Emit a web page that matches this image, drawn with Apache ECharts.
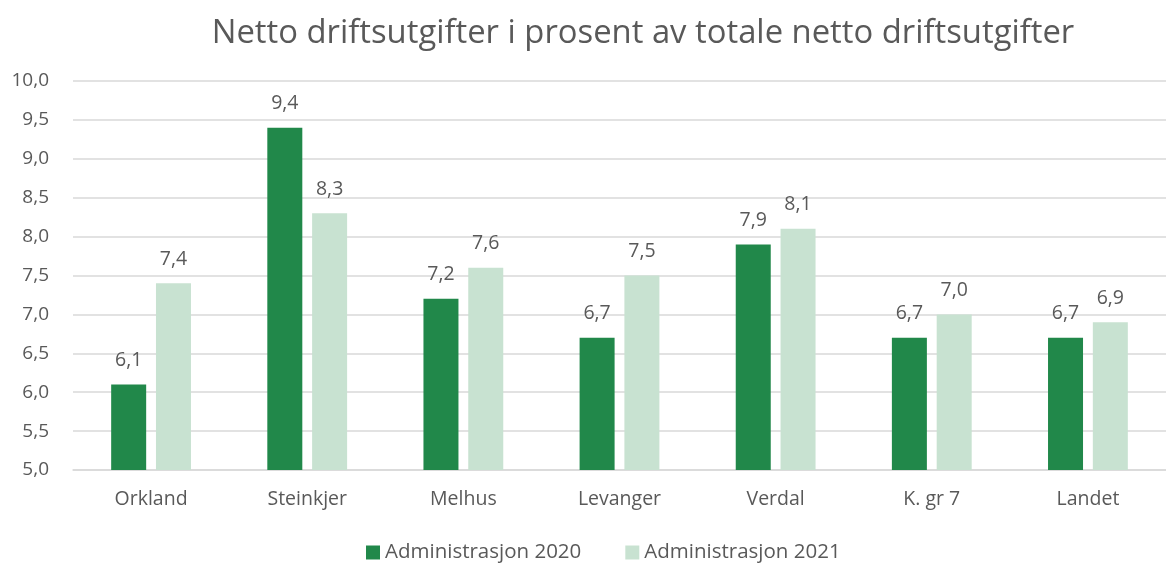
<!DOCTYPE html>
<html>
<head>
<meta charset="utf-8">
<script src="https://cdn.jsdelivr.net/npm/echarts@6/dist/echarts.min.js"></script>
<style>
  html, body { margin: 0; padding: 0; background: #fff; }
  #chart { width: 1166px; height: 563px; }
</style>
</head>
<body>
<div id="chart"></div>
<script>
var categories = ['Orkland', 'Steinkjer', 'Melhus', 'Levanger', 'Verdal', 'K. gr 7', 'Landet'];
var adm2020 = [6.1, 9.4, 7.2, 6.7, 7.9, 6.7, 6.7];
var adm2021 = [7.4, 8.3, 7.6, 7.5, 8.1, 7.0, 6.9];

var fontFam = '"Open Sans", "Noto Sans", sans-serif';
var txt = '#595959';

function fmt(v) {
    return v.toFixed(1).replace('.', ',');
}

var myChart = echarts.init(document.getElementById('chart'));

var option = {
    animation: false,
    textStyle: { fontFamily: fontFam },
    title: {
        text: 'Netto driftsutgifter i prosent av totale netto driftsutgifter',
        left: 638,
        textAlign: 'center',
        top: 12,
        textStyle: { color: txt, fontSize: 32.8, fontWeight: 'normal', fontFamily: fontFam }
    },
    legend: {
        bottom: -5,
        left: 361,
        itemWidth: 14,
        itemHeight: 14,
        itemGap: 44,
        icon: 'rect',
        textStyle: { color: txt, fontSize: 20.5, fontFamily: fontFam },
        data: ['Administrasjon 2020', 'Administrasjon 2021']
    },
    grid: { left: 73, right: -9, top: 81, bottom: 93 },
    xAxis: {
        type: 'category',
        data: categories,
        axisLine: { lineStyle: { color: '#d9d9d9', width: 1.5 } },
        axisTick: { show: false },
        axisLabel: { color: txt, fontSize: 19.5, margin: 19, fontFamily: fontFam }
    },
    yAxis: {
        type: 'value',
        min: 5,
        max: 10,
        interval: 0.5,
        axisLine: { show: false },
        axisTick: { show: false },
        splitLine: { lineStyle: { color: '#d9d9d9', width: 1.5 } },
        axisLabel: { color: txt, fontSize: 19, margin: 24, fontFamily: fontFam, formatter: fmt }
    },
    series: [{
        name: 'Administrasjon 2020',
        type: 'bar',
        data: adm2020,
        barWidth: 35,
        barGap: '28%',
        itemStyle: { color: '#21884a' },
        label: { show: true, position: 'top', distance: 14, color: txt, fontSize: 19.5, fontFamily: fontFam, formatter: function (p) { return fmt(p.value); } }
    }, {
        name: 'Administrasjon 2021',
        type: 'bar',
        data: adm2021,
        barWidth: 35,
        itemStyle: { color: '#c8e2d1' },
        label: { show: true, position: 'top', distance: 14, color: txt, fontSize: 19.5, fontFamily: fontFam, formatter: function (p) { return fmt(p.value); } }
    }]
};

myChart.setOption(option);
</script>
</body>
</html>
